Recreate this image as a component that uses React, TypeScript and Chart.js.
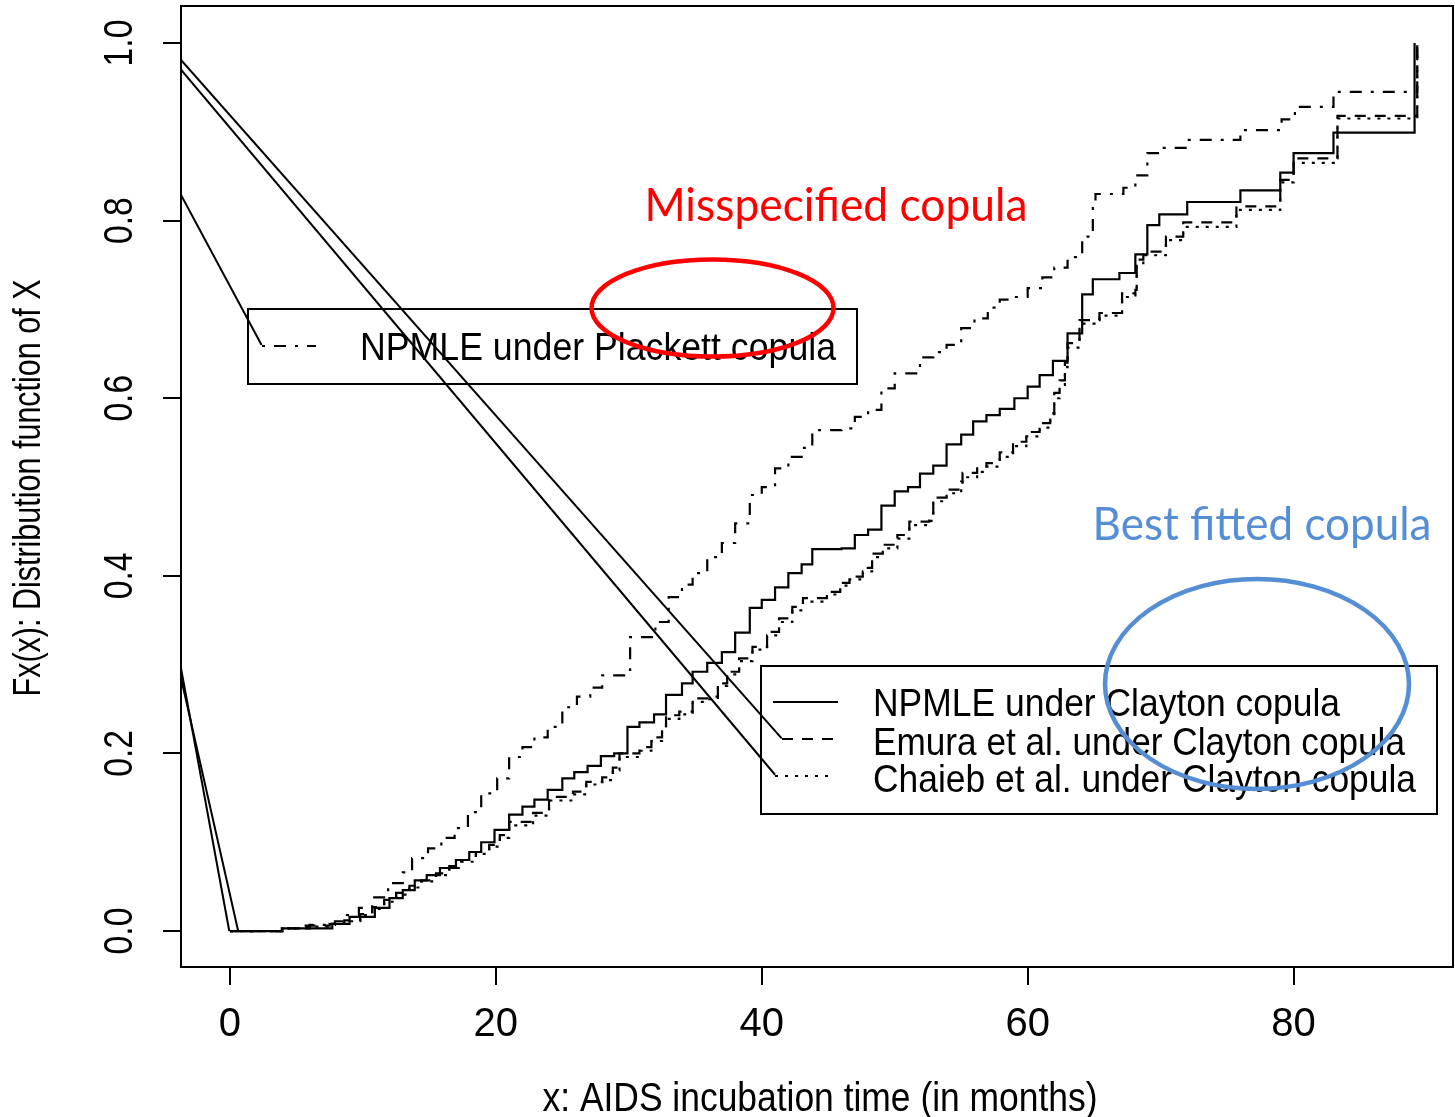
import React, { useEffect, useRef } from 'react';
import { Chart, registerables } from 'chart.js';

Chart.register(...registerables);

// ---- axis ranges and ticks ----
const X_MIN = -3.68;
const X_MAX = 91.99;
const Y_MIN = -0.0405;
const Y_MAX = 1.0417;
const xTicks = [0, 20, 40, 60, 80];
const yTicks = [0, 0.2, 0.4, 0.6, 0.8, 1.0];

// ---- step functions [x, F(x)] (value after the jump) ----
const claytonNPMLE: [number, number][] = [
  [0, 0], [3.9, 0.003], [7.7, 0.008], [9.0, 0.016], [10.9, 0.026], [12.0, 0.037], [13.0, 0.046],
  [13.9, 0.057], [14.8, 0.063], [15.8, 0.071], [17.0, 0.08], [18.0, 0.089], [18.9, 0.1], [19.9, 0.114],
  [21.0, 0.131], [22.0, 0.14], [22.9, 0.148], [23.9, 0.159], [25.0, 0.172], [25.9, 0.179], [26.9, 0.186],
  [27.9, 0.197], [28.9, 0.2], [29.9, 0.23], [30.8, 0.235], [31.9, 0.244], [32.8, 0.266], [34.0, 0.279],
  [34.8, 0.292], [35.9, 0.302], [37.0, 0.314], [38.0, 0.336], [39.1, 0.364], [40.0, 0.373], [41.0, 0.387],
  [42.0, 0.403], [43.0, 0.413], [43.8, 0.43], [46.0, 0.431], [47.0, 0.446], [48.0, 0.452], [49.0, 0.479],
  [50.0, 0.495], [51.0, 0.5], [51.9, 0.515], [52.9, 0.524], [53.9, 0.548], [55.0, 0.559], [55.9, 0.574],
  [56.9, 0.581], [57.9, 0.588], [59.0, 0.6], [60.0, 0.613], [60.9, 0.626], [61.9, 0.642], [63.0, 0.673],
  [64.1, 0.717], [64.9, 0.734], [66.9, 0.741], [68.1, 0.762], [69.0, 0.795], [69.9, 0.807], [72.0, 0.821],
  [76.0, 0.834], [79.0, 0.854], [80.0, 0.876], [83.0, 0.899], [89.1, 1.0],
];

const emuraClayton: [number, number][] = [
  [0, 0], [3.95, 0.003], [5.6, 0.006], [7.5, 0.008], [8.6, 0.012], [9.8, 0.019], [10.7, 0.027],
  [11.6, 0.035], [12.5, 0.043], [13.5, 0.051], [14.4, 0.057], [15.5, 0.065], [16.5, 0.073], [17.4, 0.08],
  [18.5, 0.089], [19.5, 0.097], [20.3, 0.108], [21.0, 0.123], [22.8, 0.133], [24.0, 0.151], [25.8, 0.157],
  [26.8, 0.168], [28.0, 0.173], [28.8, 0.184], [29.3, 0.2], [30.8, 0.207], [31.7, 0.218], [32.5, 0.229],
  [32.8, 0.243], [33.8, 0.247], [34.8, 0.262], [35.9, 0.264], [36.7, 0.279], [37.4, 0.292], [38.3, 0.307],
  [39.3, 0.32], [40.4, 0.337], [41.3, 0.352], [42.3, 0.365], [43.1, 0.375], [44.9, 0.382], [45.9, 0.392],
  [46.6, 0.399], [47.6, 0.409], [48.3, 0.425], [49.1, 0.435], [50.2, 0.446], [51.1, 0.461], [52.6, 0.466],
  [52.9, 0.488], [53.9, 0.497], [55.0, 0.506], [55.1, 0.516], [56.2, 0.521], [56.9, 0.527], [57.9, 0.539],
  [58.9, 0.551], [59.9, 0.562], [60.9, 0.572], [61.7, 0.583], [62.0, 0.606], [62.4, 0.62], [62.8, 0.64],
  [63.0, 0.662], [63.9, 0.688], [65.4, 0.696], [67.1, 0.718], [68.1, 0.722], [68.2, 0.756], [68.7, 0.765],
  [70.4, 0.782], [71.7, 0.798], [75.7, 0.816], [79.0, 0.846], [80.0, 0.87], [83.3, 0.918], [89.3, 1.0],
];

const chaiebClayton: [number, number][] = [
  [0, 0], [3.95, 0.003], [5.6, 0.005], [7.5, 0.008], [8.6, 0.011], [9.8, 0.018], [10.7, 0.025],
  [11.6, 0.033], [12.5, 0.041], [13.5, 0.049], [14.4, 0.056], [15.5, 0.063], [16.5, 0.071], [17.4, 0.078],
  [18.5, 0.087], [19.5, 0.095], [20.3, 0.105], [21.0, 0.119], [22.8, 0.13], [24.0, 0.147], [25.8, 0.154],
  [26.8, 0.165], [28.0, 0.17], [28.8, 0.181], [29.3, 0.196], [30.8, 0.203], [31.7, 0.214], [32.5, 0.225],
  [32.8, 0.239], [33.8, 0.244], [34.8, 0.258], [35.9, 0.261], [36.7, 0.276], [37.4, 0.289], [38.3, 0.304],
  [39.3, 0.317], [40.4, 0.333], [41.3, 0.348], [42.3, 0.361], [43.1, 0.371], [44.9, 0.379], [45.9, 0.389],
  [46.6, 0.396], [47.6, 0.405], [48.3, 0.421], [49.1, 0.431], [50.2, 0.442], [51.1, 0.457], [52.6, 0.462],
  [52.9, 0.484], [53.9, 0.493], [55.0, 0.502], [55.1, 0.511], [56.2, 0.517], [56.9, 0.523], [57.9, 0.534],
  [58.9, 0.546], [59.9, 0.557], [60.9, 0.567], [61.7, 0.578], [62.0, 0.6], [62.4, 0.615], [62.8, 0.635],
  [63.0, 0.657], [63.9, 0.684], [65.4, 0.693], [67.1, 0.714], [68.1, 0.719], [68.2, 0.752], [68.7, 0.761],
  [70.4, 0.778], [71.7, 0.793], [75.7, 0.812], [79.0, 0.843], [80.0, 0.865], [83.3, 0.915], [89.3, 1.0],
];

const plackettNPMLE: [number, number][] = [
  [0, 0], [3.95, 0.003], [6.0, 0.007], [7.9, 0.011], [8.8, 0.018], [9.7, 0.026], [10.7, 0.038],
  [11.9, 0.054], [13.0, 0.066], [13.7, 0.082], [14.9, 0.093], [15.9, 0.105], [16.9, 0.116], [17.9, 0.134],
  [18.9, 0.155], [20.1, 0.172], [21.0, 0.196], [22.0, 0.207], [22.9, 0.218], [23.9, 0.23], [25.0, 0.252],
  [26.1, 0.264], [27.1, 0.274], [28.0, 0.288], [29.9, 0.294], [30.1, 0.331], [32.0, 0.348], [33.0, 0.376],
  [34.0, 0.39], [34.8, 0.403], [35.9, 0.421], [37.0, 0.437], [38.0, 0.459], [39.1, 0.491], [40.0, 0.5],
  [41.0, 0.521], [42.0, 0.534], [43.0, 0.544], [43.8, 0.564], [46.0, 0.566], [47.0, 0.579], [48.0, 0.587],
  [49.0, 0.611], [50.0, 0.628], [51.9, 0.646], [52.9, 0.652], [53.9, 0.66], [55.0, 0.679], [56.0, 0.69],
  [57.0, 0.702], [57.9, 0.711], [59.0, 0.714], [60.0, 0.724], [61.1, 0.736], [62.0, 0.747], [63.0, 0.759],
  [64.1, 0.782], [64.9, 0.816], [65.1, 0.83], [67.2, 0.837], [68.1, 0.851], [69.0, 0.876], [69.9, 0.882],
  [72.0, 0.891], [76.0, 0.902], [79.1, 0.914], [80.1, 0.928], [83.0, 0.945], [89.3, 1.0],
];

// ---- straight connector segments seen in the figure [[x0,y0],[x1,y1]] ----
const connectors: [number, number][][] = [
  [[X_MIN, 0.981], [41.5, 0.217]],
  [[X_MIN, 0.970], [41.0, 0.176]],
  [[X_MIN, 0.829], [2.38, 0.66]],
  [[X_MIN, 0.296], [-0.05, 0]],
  [[X_MIN, 0.285], [0.62, 0]],
];

// ---- texts ----
const xTitle = 'x: AIDS incubation time (in months)';
const yTitle = 'Fx(x): Distribution function of X';
const legendTop = ['NPMLE under Plackett copula'];
const legendBottom = [
  'NPMLE under Clayton copula',
  'Emura et al. under Clayton copula',
  'Chaieb et al. under Clayton copula',
];
const noteRed = 'Misspecified copula';
const noteBlue = 'Best fitted copula';

// ---- styles ----
const DASHED = [11, 9];
const DOTTED = [3, 7];
const DOTDASH = [3, 9, 12, 9];
const RED = '#FF0000';
const BLUE = '#558ED5';

function fontAvailable(name: string): boolean {
  const c = document.createElement('canvas').getContext('2d')!;
  const s = 'abcdefghijklmnopqrstuvwxyzABCDEFGHIJ0123456789';
  c.font = '40px monospace';
  const a = c.measureText(s).width;
  c.font = `40px "${name}", monospace`;
  const b = c.measureText(s).width;
  return Math.abs(a - b) > 0.5;
}

export default function App() {
  const ref = useRef<HTMLCanvasElement>(null);

  useEffect(() => {
    document.body.style.margin = '0';
    const narrow = fontAvailable('Liberation Sans Narrow');
    const FAMILY = narrow
      ? '"Liberation Sans Narrow", "Liberation Sans", Arial, sans-serif'
      : '"Liberation Sans", Arial, sans-serif';
    const SX = narrow ? 1 : 0.82;
    const rFont = (s: number) => `${s}px ${FAMILY}`;

    const fitText = (
      ctx: CanvasRenderingContext2D,
      text: string,
      x: number,
      y: number,
      width: number,
      font: string,
      align: 'left' | 'center',
      angle = 0,
      color = '#000',
    ) => {
      ctx.save();
      ctx.font = font;
      ctx.fillStyle = color;
      ctx.textBaseline = 'middle';
      ctx.textAlign = align;
      const w = ctx.measureText(text).width;
      ctx.translate(x, y);
      if (angle) ctx.rotate(angle);
      ctx.scale(width / w, 1);
      ctx.fillText(text, 0, 0);
      ctx.restore();
    };

    const seg = (ctx: CanvasRenderingContext2D, x0: number, x1: number, y: number, dash: number[]) => {
      ctx.save();
      ctx.strokeStyle = '#000';
      ctx.lineWidth = 2;
      ctx.setLineDash(dash);
      ctx.beginPath();
      ctx.moveTo(x0, y);
      ctx.lineTo(x1, y);
      ctx.stroke();
      ctx.restore();
    };

    const overlay = {
      id: 'overlay',
      afterDraw(chart: any) {
        const ctx: CanvasRenderingContext2D = chart.ctx;
        const { left, right, top, bottom } = chart.chartArea;
        const yScale = chart.scales.y;

        // frame
        ctx.save();
        ctx.strokeStyle = '#000';
        ctx.lineWidth = 2;
        ctx.strokeRect(left, top, right - left, bottom - top);
        ctx.restore();

        // y tick labels (rotated, as in R)
        yTicks.forEach((v) => {
          const py = yScale.getPixelForValue(v);
          ctx.save();
          ctx.font = rFont(41);
          ctx.fillStyle = '#000';
          ctx.textAlign = 'center';
          ctx.textBaseline = 'middle';
          ctx.translate(121, py);
          ctx.rotate(-Math.PI / 2);
          ctx.scale(SX, 1);
          ctx.fillText(v.toFixed(1), 0, 0);
          ctx.restore();
        });

        // axis titles
        fitText(ctx, xTitle, 820, 1100, 555, rFont(40), 'center');
        fitText(ctx, yTitle, 30, 488, 417, rFont(38), 'center', -Math.PI / 2);

        // legend boxes
        ctx.save();
        ctx.strokeStyle = '#000';
        ctx.lineWidth = 2;
        ctx.strokeRect(248, 309, 609, 75);
        ctx.strokeRect(761, 666, 676, 148);
        ctx.restore();

        // legend 1
        seg(ctx, 262, 316, 346, DOTDASH);
        fitText(ctx, legendTop[0], 360, 349, 476, rFont(39), 'left');

        // legend 2
        seg(ctx, 773, 838, 702, []);
        seg(ctx, 782, 833, 739, DASHED);
        seg(ctx, 775, 834, 776, DOTTED);
        fitText(ctx, legendBottom[0], 873, 705, 467, rFont(39), 'left');
        fitText(ctx, legendBottom[1], 873, 744, 532, rFont(39), 'left');
        fitText(ctx, legendBottom[2], 873, 781, 543, rFont(39), 'left');

        // annotations
        fitText(ctx, noteRed, 836, 206, 383, '46px Lato, "Open Sans", sans-serif', 'center', 0, RED);
        fitText(ctx, noteBlue, 1262, 525, 339, '46px Lato, "Open Sans", sans-serif', 'center', 0, BLUE);

        ctx.save();
        ctx.lineWidth = 4.5;
        ctx.strokeStyle = RED;
        ctx.beginPath();
        ctx.ellipse(712.5, 308, 121, 48.5, 0, 0, Math.PI * 2);
        ctx.stroke();
        ctx.strokeStyle = BLUE;
        ctx.beginPath();
        ctx.ellipse(1257, 684, 152, 105, 0, 0, Math.PI * 2);
        ctx.stroke();
        ctx.restore();
      },
    };

    const stepSet = (pts: [number, number][], dash: number[]) => ({
      data: pts.map(([x, y]) => ({ x, y })),
      borderColor: '#000',
      borderWidth: 2.2,
      borderDash: dash,
      stepped: 'before' as const,
      pointRadius: 0,
      fill: false,
    });

    const connectorSets = connectors.map((c) => ({
      data: c.map(([x, y]) => ({ x, y })),
      borderColor: '#000',
      borderWidth: 2,
      pointRadius: 0,
      fill: false,
    }));

    const chart = new Chart(ref.current!, {
      type: 'line',
      data: {
        datasets: [
          stepSet(claytonNPMLE, []),
          stepSet(emuraClayton, DASHED),
          stepSet(chaiebClayton, DOTTED),
          stepSet(plackettNPMLE, DOTDASH),
          ...connectorSets,
        ] as any,
      },
      options: {
        responsive: false,
        animation: false,
        devicePixelRatio: 1,
        layout: { padding: { top: 6, right: 2, left: 0, bottom: 0 } },
        plugins: { legend: { display: false }, tooltip: { enabled: false } },
        scales: {
          x: {
            type: 'linear',
            min: X_MIN,
            max: X_MAX,
            afterBuildTicks: (s: any) => {
              s.ticks = xTicks.map((v) => ({ value: v }));
            },
            afterFit: (s: any) => {
              s.height = 150;
            },
            grid: { drawOnChartArea: false, drawTicks: true, tickLength: 18, color: '#000', lineWidth: 2 },
            border: { display: false },
            ticks: {
              color: '#000',
              font: { family: FAMILY, size: 40 },
              padding: 16,
              maxRotation: 0,
              minRotation: 0,
              autoSkip: false,
            },
          },
          y: {
            type: 'linear',
            min: Y_MIN,
            max: Y_MAX,
            afterBuildTicks: (s: any) => {
              s.ticks = yTicks.map((v) => ({ value: v }));
            },
            afterFit: (s: any) => {
              s.width = 181;
            },
            grid: { drawOnChartArea: false, drawTicks: true, tickLength: 18, color: '#000', lineWidth: 2 },
            border: { display: false },
            ticks: { display: false },
          },
        },
      } as any,
      plugins: [overlay],
    });
    return () => chart.destroy();
  }, []);

  return (
    <canvas
      ref={ref}
      width={1455}
      height={1117}
      style={{ display: 'block', width: 1455, height: 1117 }}
    />
  );
}
